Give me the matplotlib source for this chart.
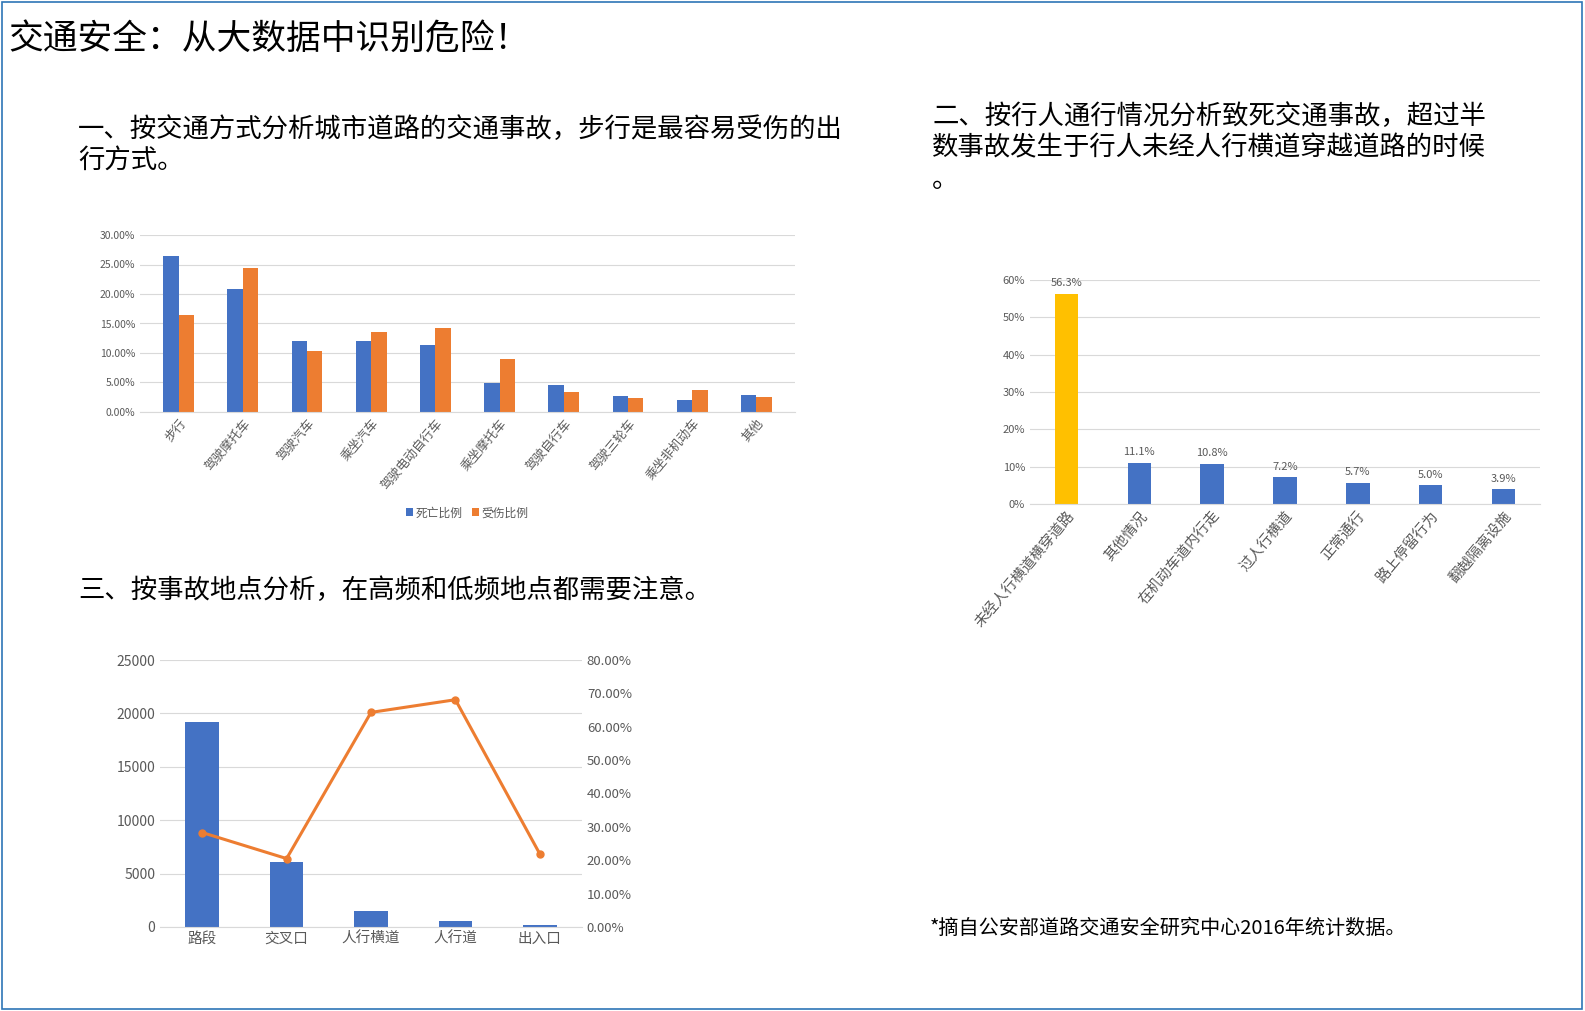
import matplotlib
matplotlib.use("Agg")
import matplotlib.pyplot as plt
from matplotlib.patches import Rectangle
from matplotlib.ticker import FuncFormatter
import numpy as np

plt.rcParams['font.family'] = ['Noto Sans CJK SC', 'DejaVu Sans']

BLUE = '#4472C4'
ORANGE = '#ED7D31'
GOLD = '#FFC000'
GRID = '#D9D9D9'
TXT = '#595959'

# chart 1
modes = ['步行', '驾驶摩托车', '驾驶汽车', '乘坐汽车', '驾驶电动自行车', '乘坐摩托车',
         '驾驶自行车', '驾驶三轮车', '乘坐非机动车', '其他']
death_pct = [26.5, 20.8, 12.0, 12.0, 11.4, 4.9, 4.6, 2.7, 2.1, 2.8]
injury_pct = [16.4, 24.4, 10.3, 13.6, 14.2, 8.9, 3.35, 2.3, 3.7, 2.6]

# chart 2
situations = ['未经人行横道横穿道路', '其他情况', '在机动车道内行走', '过人行横道',
              '正常通行', '路上停留行为', '翻越隔离设施']
situation_pct = [56.3, 11.1, 10.8, 7.2, 5.7, 5.0, 3.9]

# chart 3
places = ['路段', '交叉口', '人行横道', '人行道', '出入口']
place_counts = [19150, 6080, 1540, 525, 215]
place_rate = [28.3, 20.5, 64.3, 68.1, 21.9]

W, H = 1585, 1011
fig = plt.figure(figsize=(W / 100, H / 100), dpi=100)


def px_axes(x1, y1, x2, y2):
    return fig.add_axes([x1 / W, 1 - y2 / H, (x2 - x1) / W, (y2 - y1) / H])


def style(ax):
    for s in ax.spines.values():
        s.set_visible(False)
    ax.spines['bottom'].set_visible(True)
    ax.spines['bottom'].set_color(GRID)
    ax.grid(axis='y', color=GRID, linewidth=0.8)
    ax.set_axisbelow(True)
    ax.tick_params(length=0, colors=TXT)


fig.patches.append(Rectangle((0.001, 0.002), 0.997, 0.996, transform=fig.transFigure,
                             fill=False, edgecolor='#2E75B6', linewidth=1.2))

fig.text(8 / W, 1 - 40 / H, '交通安全：从大数据中识别危险！', fontsize=25, va='center')
fig.text(78 / W, 1 - 145 / H, '一、按交通方式分析城市道路的交通事故，步行是最容易受伤的出\n行方式。',
         fontsize=19, va='center', linespacing=1.2)
fig.text(932 / W, 1 - 148 / H, '二、按行人通行情况分析致死交通事故，超过半\n数事故发生于行人未经人行横道穿越道路的时候\n。',
         fontsize=19, va='center', linespacing=1.2)
fig.text(78 / W, 1 - 590 / H, '三、按事故地点分析，在高频和低频地点都需要注意。', fontsize=19, va='center')
fig.text(930 / W, 1 - 928 / H, '*摘自公安部道路交通安全研究中心2016年统计数据。', fontsize=14.5, va='center')

# chart 1
ax1 = px_axes(140, 235, 795, 412)
x = np.arange(len(modes))
w = 0.24
ax1.bar(x - w / 2, death_pct, w, color=BLUE, label='死亡比例')
ax1.bar(x + w / 2, injury_pct, w, color=ORANGE, label='受伤比例')
ax1.set_ylim(0, 30)
ax1.set_yticks(np.arange(0, 31, 5))
ax1.yaxis.set_major_formatter(FuncFormatter(lambda v, _: '%.2f%%' % v))
ax1.set_xlim(-0.6, len(modes) - 0.4)
ax1.set_xticks(x)
ax1.set_xticklabels(modes, rotation=50, ha='right', rotation_mode='anchor', fontsize=9)
ax1.tick_params(axis='y', labelsize=7.5)
style(ax1)
ax1.legend(loc='center', bbox_to_anchor=(0.5, -0.57), ncol=2, frameon=False, fontsize=8.5,
           handlelength=0.6, handleheight=0.6, columnspacing=0.8, handletextpad=0.2,
           labelcolor=TXT)

# chart 2
ax2 = px_axes(1030, 280, 1540, 504)
x2 = np.arange(len(situations))
cols = [GOLD] + [BLUE] * (len(situations) - 1)
ax2.bar(x2, situation_pct, 0.32, color=cols)
for xi, v in zip(x2, situation_pct):
    ax2.text(xi, v + 1.5, '%.1f%%' % v, ha='center', va='bottom', fontsize=8, color=TXT)
ax2.set_ylim(0, 60)
ax2.set_yticks(np.arange(0, 61, 10))
ax2.yaxis.set_major_formatter(FuncFormatter(lambda v, _: '%d%%' % v))
ax2.set_xlim(-0.5, len(situations) - 0.5)
ax2.set_xticks(x2)
ax2.set_xticklabels(situations, rotation=50, ha='right', rotation_mode='anchor', fontsize=10.5)
ax2.tick_params(axis='y', labelsize=8)
style(ax2)

# chart 3
ax3 = px_axes(160, 660, 582, 927)
x3 = np.arange(len(places))
ax3.bar(x3, place_counts, 0.4, color=BLUE)
ax3.set_ylim(0, 25000)
ax3.set_yticks(np.arange(0, 25001, 5000))
ax3.set_xlim(-0.5, len(places) - 0.5)
ax3.set_xticks(x3)
ax3.set_xticklabels(places, fontsize=10.5)
ax3.tick_params(axis='y', labelsize=10)
style(ax3)
ax3b = ax3.twinx()
ax3b.plot(x3, place_rate, color=ORANGE, linewidth=2.2, marker='o', markersize=5)
ax3b.set_ylim(0, 80)
ax3b.set_yticks(np.arange(0, 81, 10))
ax3b.yaxis.set_major_formatter(FuncFormatter(lambda v, _: '%.2f%%' % v))
ax3b.tick_params(length=0, colors=TXT, labelsize=9.5)
for s in ax3b.spines.values():
    s.set_visible(False)

fig.savefig('out.png', dpi=100)
